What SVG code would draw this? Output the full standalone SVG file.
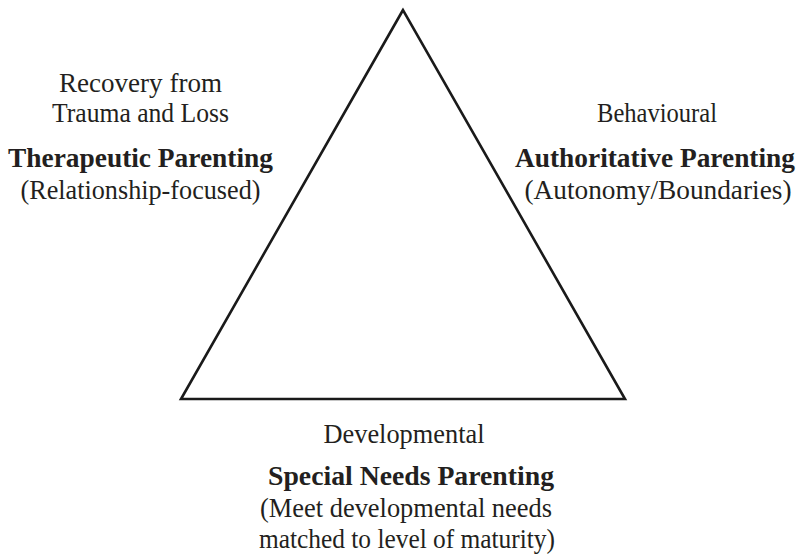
<svg xmlns="http://www.w3.org/2000/svg" width="800" height="557" viewBox="0 0 800 557">
  <style>
    text { font-family: "Liberation Serif", "DejaVu Serif", serif; font-size: 27px; fill: #231f20; text-anchor: middle; }
    .b { font-weight: bold; }
    .tri { fill: none; stroke: #1a1a1a; stroke-width: 2.6; stroke-linejoin: miter; }
  </style>
  <rect width="800" height="557" fill="#fff"/>
  <g id="triangle">
    <polygon class="tri" points="403,10 181,399 625,399"/>
  </g>
  <g id="therapeutic">
    <text x="140.5" y="92" textLength="163" lengthAdjust="spacingAndGlyphs">Recovery from</text>
    <text x="140.5" y="122" textLength="177" lengthAdjust="spacingAndGlyphs">Trauma and Loss</text>
    <text x="140.5" y="167" class="b" textLength="265" lengthAdjust="spacingAndGlyphs">Therapeutic Parenting</text>
    <text x="140.5" y="199" textLength="240" lengthAdjust="spacingAndGlyphs">(Relationship-focused)</text>
  </g>
  <g id="authoritative">
    <text x="657" y="122" textLength="120" lengthAdjust="spacingAndGlyphs">Behavioural</text>
    <text x="655" y="167" class="b" textLength="280" lengthAdjust="spacingAndGlyphs">Authoritative Parenting</text>
    <text x="658" y="199" textLength="267" lengthAdjust="spacingAndGlyphs">(Autonomy/Boundaries)</text>
  </g>
  <g id="special-needs">
    <text x="404" y="443" textLength="161" lengthAdjust="spacingAndGlyphs">Developmental</text>
    <text x="411" y="485" class="b" textLength="286" lengthAdjust="spacingAndGlyphs">Special Needs Parenting</text>
    <text x="406" y="517" textLength="292" lengthAdjust="spacingAndGlyphs">(Meet developmental needs</text>
    <text x="407" y="548" textLength="296" lengthAdjust="spacingAndGlyphs">matched to level of maturity)</text>
  </g>
</svg>
